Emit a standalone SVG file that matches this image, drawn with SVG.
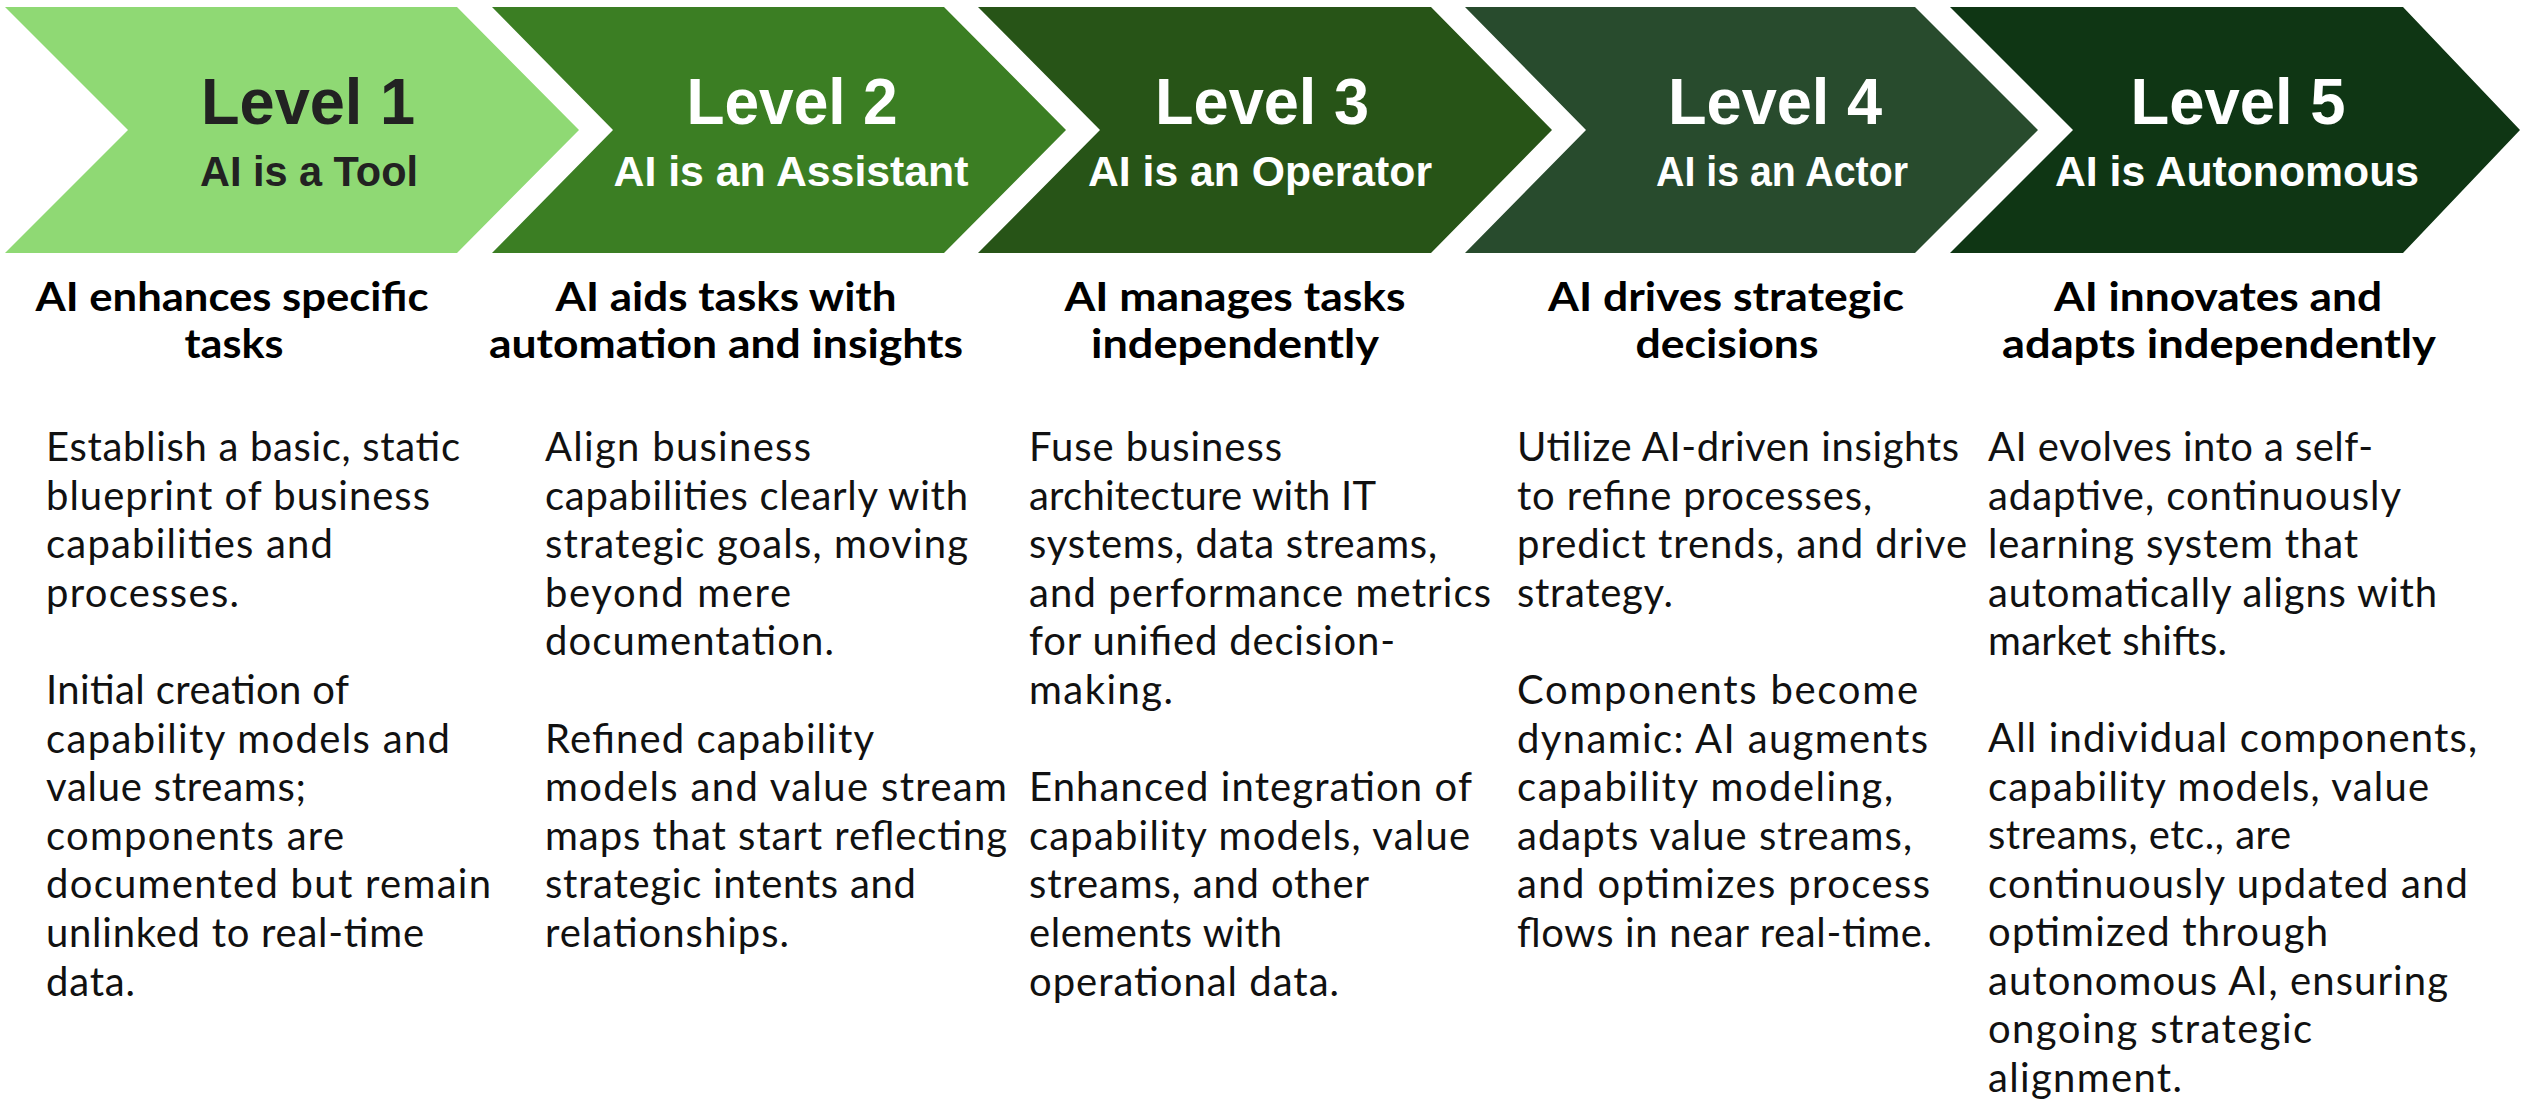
<svg xmlns="http://www.w3.org/2000/svg" width="2522" height="1103" viewBox="0 0 2522 1103">
<style>
.ttl{font-family:"Liberation Sans",Arial,sans-serif;font-weight:700;font-size:64px;text-anchor:middle;fill:#fff}
.sub{font-family:"Liberation Sans",Arial,sans-serif;font-weight:700;font-size:43px;text-anchor:middle;fill:#fff}
.dark{fill:#222}
.hd{font-family:Lato,"Liberation Sans",sans-serif;font-weight:700;font-size:40px;text-anchor:middle;fill:#000}
.bd{font-family:Lato,"Liberation Sans",sans-serif;font-weight:400;font-size:40px;fill:#111}
</style>
<rect width="2522" height="1103" fill="#fff"/>
<g id="connectors"/>
<g id="level1">
<polygon points="5,7 457,7 579,130 457,253 5,253 128,130" fill="#8FD974"/>
<text class="ttl dark" x="308" y="124" textLength="214" lengthAdjust="spacingAndGlyphs">Level 1</text>
<text class="sub dark" x="309" y="186" textLength="218" lengthAdjust="spacingAndGlyphs">AI is a Tool</text>
<text class="hd" x="232" y="311" textLength="393" lengthAdjust="spacingAndGlyphs">AI enhances specific</text>
<text class="hd" x="234" y="358" textLength="99" lengthAdjust="spacingAndGlyphs">tasks</text>
<text class="bd" x="46" y="461" textLength="414" lengthAdjust="spacing">Establish a basic, static</text>
<text class="bd" x="46" y="509.6" textLength="384" lengthAdjust="spacing">blueprint of business</text>
<text class="bd" x="46" y="558.2" textLength="287" lengthAdjust="spacing">capabilities and</text>
<text class="bd" x="46" y="606.8" textLength="193" lengthAdjust="spacing">processes.</text>
<text class="bd" x="46" y="704" textLength="303" lengthAdjust="spacing">Initial creation of</text>
<text class="bd" x="46" y="752.6" textLength="404" lengthAdjust="spacing">capability models and</text>
<text class="bd" x="46" y="801.2" textLength="260" lengthAdjust="spacing">value streams;</text>
<text class="bd" x="46" y="849.8" textLength="298" lengthAdjust="spacing">components are</text>
<text class="bd" x="46" y="898.4" textLength="445" lengthAdjust="spacing">documented but remain</text>
<text class="bd" x="46" y="947" textLength="378" lengthAdjust="spacing">unlinked to real-time</text>
<text class="bd" x="46" y="995.6" textLength="89" lengthAdjust="spacing">data.</text>
</g>
<g id="level2">
<polygon points="492,7 944,7 1066,130 944,253 492,253 613,130" fill="#3B7E23"/>
<text class="ttl" x="792" y="124" textLength="211" lengthAdjust="spacingAndGlyphs">Level 2</text>
<text class="sub" x="791" y="186" textLength="355" lengthAdjust="spacingAndGlyphs">AI is an Assistant</text>
<text class="hd" x="726" y="311" textLength="341" lengthAdjust="spacingAndGlyphs">AI aids tasks with</text>
<text class="hd" x="726" y="358" textLength="474" lengthAdjust="spacingAndGlyphs">automation and insights</text>
<text class="bd" x="545" y="461" textLength="266" lengthAdjust="spacing">Align business</text>
<text class="bd" x="545" y="509.6" textLength="423" lengthAdjust="spacing">capabilities clearly with</text>
<text class="bd" x="545" y="558.2" textLength="423" lengthAdjust="spacing">strategic goals, moving</text>
<text class="bd" x="545" y="606.8" textLength="246" lengthAdjust="spacing">beyond mere</text>
<text class="bd" x="545" y="655.4" textLength="289" lengthAdjust="spacing">documentation.</text>
<text class="bd" x="545" y="752.6" textLength="329" lengthAdjust="spacing">Refined capability</text>
<text class="bd" x="545" y="801.2" textLength="462" lengthAdjust="spacing">models and value stream</text>
<text class="bd" x="545" y="849.8" textLength="462" lengthAdjust="spacing">maps that start reflecting</text>
<text class="bd" x="545" y="898.4" textLength="371" lengthAdjust="spacing">strategic intents and</text>
<text class="bd" x="545" y="947" textLength="244" lengthAdjust="spacing">relationships.</text>
</g>
<g id="level3">
<polygon points="978,7 1431,7 1552,130 1431,253 978,253 1100,130" fill="#275417"/>
<text class="ttl" x="1262" y="124" textLength="214" lengthAdjust="spacingAndGlyphs">Level 3</text>
<text class="sub" x="1260" y="186" textLength="344" lengthAdjust="spacingAndGlyphs">AI is an Operator</text>
<text class="hd" x="1235" y="311" textLength="341" lengthAdjust="spacingAndGlyphs">AI manages tasks</text>
<text class="hd" x="1235" y="358" textLength="288" lengthAdjust="spacingAndGlyphs">independently</text>
<text class="bd" x="1029" y="461" textLength="253" lengthAdjust="spacing">Fuse business</text>
<text class="bd" x="1029" y="509.6" textLength="347" lengthAdjust="spacing">architecture with IT</text>
<text class="bd" x="1029" y="558.2" textLength="408" lengthAdjust="spacing">systems, data streams,</text>
<text class="bd" x="1029" y="606.8" textLength="462" lengthAdjust="spacing">and performance metrics</text>
<text class="bd" x="1029" y="655.4" textLength="366" lengthAdjust="spacing">for unified decision-</text>
<text class="bd" x="1029" y="704" textLength="144" lengthAdjust="spacing">making.</text>
<text class="bd" x="1029" y="801.2" textLength="443" lengthAdjust="spacing">Enhanced integration of</text>
<text class="bd" x="1029" y="849.8" textLength="441" lengthAdjust="spacing">capability models, value</text>
<text class="bd" x="1029" y="898.4" textLength="340" lengthAdjust="spacing">streams, and other</text>
<text class="bd" x="1029" y="947" textLength="253" lengthAdjust="spacing">elements with</text>
<text class="bd" x="1029" y="995.6" textLength="310" lengthAdjust="spacing">operational data.</text>
</g>
<g id="level4">
<polygon points="1465,7 1915,7 2038,130 1915,253 1465,253 1586,130" fill="#284B2D"/>
<text class="ttl" x="1775" y="124" textLength="214" lengthAdjust="spacingAndGlyphs">Level 4</text>
<text class="sub" x="1782" y="186" textLength="252" lengthAdjust="spacingAndGlyphs">AI is an Actor</text>
<text class="hd" x="1726" y="311" textLength="356" lengthAdjust="spacingAndGlyphs">AI drives strategic</text>
<text class="hd" x="1727" y="358" textLength="183" lengthAdjust="spacingAndGlyphs">decisions</text>
<text class="bd" x="1517" y="461" textLength="442" lengthAdjust="spacing">Utilize AI-driven insights</text>
<text class="bd" x="1517" y="509.6" textLength="355" lengthAdjust="spacing">to refine processes,</text>
<text class="bd" x="1517" y="558.2" textLength="450" lengthAdjust="spacing">predict trends, and drive</text>
<text class="bd" x="1517" y="606.8" textLength="156" lengthAdjust="spacing">strategy.</text>
<text class="bd" x="1517" y="704" textLength="401" lengthAdjust="spacing">Components become</text>
<text class="bd" x="1517" y="752.6" textLength="411" lengthAdjust="spacing">dynamic: AI augments</text>
<text class="bd" x="1517" y="801.2" textLength="376" lengthAdjust="spacing">capability modeling,</text>
<text class="bd" x="1517" y="849.8" textLength="395" lengthAdjust="spacing">adapts value streams,</text>
<text class="bd" x="1517" y="898.4" textLength="413" lengthAdjust="spacing">and optimizes process</text>
<text class="bd" x="1517" y="947" textLength="415" lengthAdjust="spacing">flows in near real-time.</text>
</g>
<g id="level5">
<polygon points="1950,7 2403,7 2520,130 2403,253 1950,253 2073,130" fill="#0F3614"/>
<text class="ttl" x="2238" y="124" textLength="215" lengthAdjust="spacingAndGlyphs">Level 5</text>
<text class="sub" x="2237" y="186" textLength="364" lengthAdjust="spacingAndGlyphs">AI is Autonomous</text>
<text class="hd" x="2218" y="311" textLength="328" lengthAdjust="spacingAndGlyphs">AI innovates and</text>
<text class="hd" x="2219" y="358" textLength="434" lengthAdjust="spacingAndGlyphs">adapts independently</text>
<text class="bd" x="1988" y="461" textLength="385" lengthAdjust="spacing">AI evolves into a self-</text>
<text class="bd" x="1988" y="509.5" textLength="413" lengthAdjust="spacing">adaptive, continuously</text>
<text class="bd" x="1988" y="558" textLength="370" lengthAdjust="spacing">learning system that</text>
<text class="bd" x="1988" y="606.5" textLength="449" lengthAdjust="spacing">automatically aligns with</text>
<text class="bd" x="1988" y="655" textLength="239" lengthAdjust="spacing">market shifts.</text>
<text class="bd" x="1988" y="752" textLength="489" lengthAdjust="spacing">All individual components,</text>
<text class="bd" x="1988" y="800.5" textLength="441" lengthAdjust="spacing">capability models, value</text>
<text class="bd" x="1988" y="849" textLength="303" lengthAdjust="spacing">streams, etc., are</text>
<text class="bd" x="1988" y="897.5" textLength="480" lengthAdjust="spacing">continuously updated and</text>
<text class="bd" x="1988" y="946" textLength="340" lengthAdjust="spacing">optimized through</text>
<text class="bd" x="1988" y="994.5" textLength="460" lengthAdjust="spacing">autonomous AI, ensuring</text>
<text class="bd" x="1988" y="1043" textLength="324" lengthAdjust="spacing">ongoing strategic</text>
<text class="bd" x="1988" y="1091.5" textLength="194" lengthAdjust="spacing">alignment.</text>
</g>
</svg>
